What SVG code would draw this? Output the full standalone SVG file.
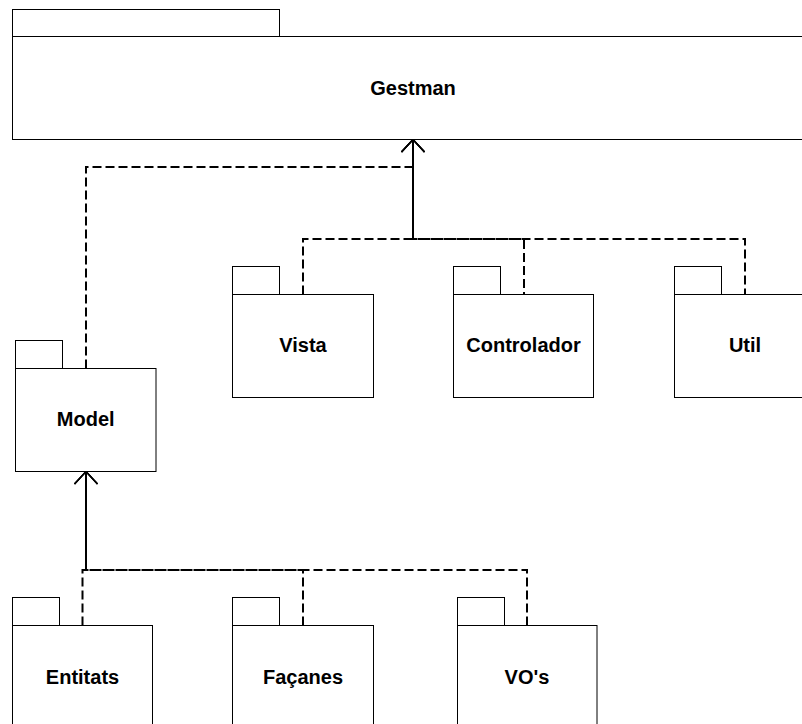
<svg xmlns="http://www.w3.org/2000/svg" width="802" height="724" viewBox="0 0 802 724">
<defs>
<style>
.pk{fill:#fff;stroke:#000;stroke-width:1}
.lb{font-family:"Liberation Sans",Arial,sans-serif;font-weight:bold;font-size:20px;fill:#000;text-anchor:middle}
.dep{fill:none;stroke:#000;stroke-width:2;stroke-dasharray:9 4;marker-end:url(#open)}
</style>
<marker id="open" markerUnits="userSpaceOnUse" markerWidth="30" markerHeight="30" refX="0" refY="0" orient="auto" overflow="visible">
<path d="M-12.5,-11.5 L0,0 L-12.5,11.5" fill="none" stroke="#000" stroke-width="1.5"/>
</marker>
</defs>
<rect width="802" height="724" fill="#fff"/>
<g id="connectors">
<path class="dep" d="M86,368.5 V167 H413 V139.5"/>
<path class="dep" d="M303,294.5 V239 H413 V139.5"/>
<path class="dep" d="M524,294.5 V239 H413 V139.5" stroke-dashoffset="6.5"/>
<path class="dep" d="M745,294.5 V239 H413 V139.5" stroke-dashoffset="3"/>
<path class="dep" d="M82.5,625.5 V570 H86 V471.5"/>
<path class="dep" d="M303,625.5 V570 H86 V471.5"/>
<path class="dep" d="M527,625.5 V570 H86 V471.5"/>
</g>
<g id="gestman">
<rect class="pk" x="12.5" y="9.5" width="267" height="27"/>
<rect class="pk" x="12.5" y="36.5" width="801" height="103"/>
<text class="lb" x="413" y="95">Gestman</text>
</g>
<g id="vista">
<rect class="pk" x="232.5" y="266.5" width="47" height="28"/>
<rect class="pk" x="232.5" y="294.5" width="141" height="103"/>
<text class="lb" x="303" y="352">Vista</text>
</g>
<g id="controlador">
<rect class="pk" x="453.5" y="266.5" width="47" height="28"/>
<rect class="pk" x="453.5" y="294.5" width="140" height="103"/>
<text class="lb" x="523.5" y="352">Controlador</text>
</g>
<g id="util">
<rect class="pk" x="674.5" y="266.5" width="47" height="28"/>
<rect class="pk" x="674.5" y="294.5" width="141" height="103"/>
<text class="lb" x="745" y="352">Util</text>
</g>
<g id="model">
<rect class="pk" x="15.5" y="340.5" width="47" height="28"/>
<rect class="pk" x="15.5" y="368.5" width="140.5" height="103"/>
<text class="lb" x="85.75" y="426">Model</text>
</g>
<g id="entitats">
<rect class="pk" x="12.5" y="597.5" width="47" height="28"/>
<rect class="pk" x="12.5" y="625.5" width="140" height="103"/>
<text class="lb" x="82.5" y="684">Entitats</text>
</g>
<g id="facanes">
<rect class="pk" x="232.5" y="597.5" width="47" height="28"/>
<rect class="pk" x="232.5" y="625.5" width="141" height="103"/>
<text class="lb" x="303" y="684">Façanes</text>
</g>
<g id="vos">
<rect class="pk" x="457.5" y="597.5" width="47" height="28"/>
<rect class="pk" x="457.5" y="625.5" width="139.5" height="103"/>
<text class="lb" x="527" y="684">VO's</text>
</g>
</svg>
